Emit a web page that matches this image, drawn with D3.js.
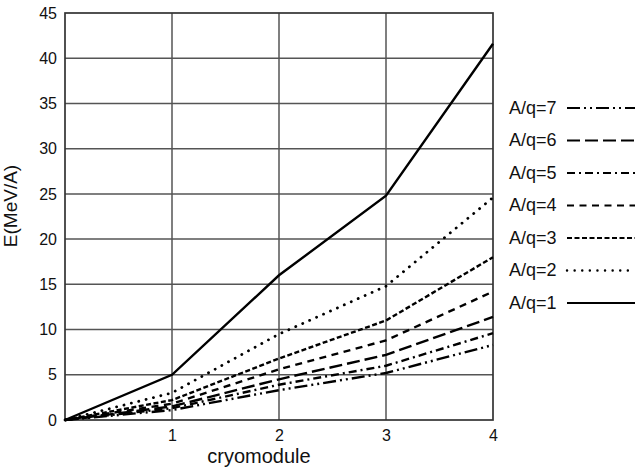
<!DOCTYPE html>
<html lang="en">
<head>
<meta charset="UTF-8">
<title>E vs cryomodule</title>
<script src="https://cdnjs.cloudflare.com/ajax/libs/d3/7.8.5/d3.min.js"></script>
<style>
  body { margin: 0; background: #fff; }
  svg text { font-family: "Liberation Sans", Arial, Helvetica, sans-serif; fill: #111; }
</style>
</head>
<body>
<svg id="chart" width="637" height="471"></svg>
<script>
    // data
    const cryomodules = [0, 1, 2, 3, 4];
    const xTicks = [1, 2, 3, 4];
    const yTicks = [0, 5, 10, 15, 20, 25, 30, 35, 40, 45];
    const seriesNames = ["A/q=7", "A/q=6", "A/q=5", "A/q=4", "A/q=3", "A/q=2", "A/q=1"];
    const aq1 = [0, 5, 16, 24.8, 41.6];
    const aq2 = [0, 3, 9.5, 14.8, 24.6];
    const aq3 = [0, 2.2, 6.8, 11, 18];
    const aq4 = [0, 1.8, 5.6, 8.8, 14.2];
    const aq6 = [0, 1.5, 4.5, 7.2, 11.4];
    const aq5 = [0, 1.3, 3.9, 6, 9.6];
    const aq7 = [0, 1.1, 3.3, 5.2, 8.3];

    const dashes = {
        "A/q=1": null,
        "A/q=2": "0.1 7.5",
        "A/q=3": "5 2.5",
        "A/q=4": "7 5.5",
        "A/q=5": "8 4 2 4",
        "A/q=6": "13 5",
        "A/q=7": "13 4 2 4 2 4"
    };
    const values = {
        "A/q=1": aq1, "A/q=2": aq2, "A/q=3": aq3, "A/q=4": aq4,
        "A/q=5": aq5, "A/q=6": aq6, "A/q=7": aq7
    };

    const svg = d3.select("#chart");
    const m = { left: 65, right: 493, top: 13, bottom: 420 };

    const x = d3.scaleLinear().domain([0, 4]).range([m.left, m.right]);
    const y = d3.scaleLinear().domain([0, 45]).range([m.bottom, m.top]);

    // grid
    svg.append("g").selectAll("line")
        .data(yTicks.slice(1, -1))
        .enter().append("line")
        .attr("x1", m.left).attr("x2", m.right)
        .attr("y1", d => y(d)).attr("y2", d => y(d))
        .attr("stroke", "#555").attr("stroke-width", 1.5);
    svg.append("g").selectAll("line")
        .data(xTicks.slice(0, -1))
        .enter().append("line")
        .attr("y1", m.top).attr("y2", m.bottom)
        .attr("x1", d => x(d)).attr("x2", d => x(d))
        .attr("stroke", "#555").attr("stroke-width", 1.5);

    svg.append("rect")
        .attr("x", m.left).attr("y", m.top)
        .attr("width", m.right - m.left).attr("height", m.bottom - m.top)
        .attr("fill", "none").attr("stroke", "#333").attr("stroke-width", 1.7);

    // axes labels
    const yAxis = d3.axisLeft(y).tickValues(yTicks).tickFormat(d3.format("d")).tickSize(0).tickPadding(8);
    const gy = svg.append("g").attr("transform", `translate(${m.left},0)`).call(yAxis);
    const xAxis = d3.axisBottom(x).tickValues(xTicks).tickFormat(d3.format("d")).tickSize(0).tickPadding(10);
    const gx = svg.append("g").attr("transform", `translate(0,${m.bottom})`).call(xAxis);
    [gy, gx].forEach(g => {
        g.select(".domain").remove();
        g.selectAll("text").style("font-size", "16px").attr("fill", "#111");
    });

    svg.append("text")
        .attr("x", x(2) - 20).attr("y", 463)
        .attr("text-anchor", "middle")
        .style("font-size", "20px")
        .text("cryomodule");

    svg.append("text")
        .attr("transform", "translate(17,206) rotate(-90)")
        .attr("text-anchor", "middle")
        .style("font-size", "19px")
        .text("E(MeV/A)");

    // series
    const line = d3.line()
        .x((d, i) => x(cryomodules[i]))
        .y(d => y(d));

    svg.append("g").selectAll("path")
        .data(seriesNames)
        .enter().append("path")
        .attr("d", d => line(values[d]))
        .attr("fill", "none")
        .attr("stroke", "#000")
        .attr("stroke-width", d => d === "A/q=2" ? 2.8 : 2.4)
        .attr("stroke-dasharray", d => dashes[d])
        .attr("stroke-linecap", d => d === "A/q=2" ? "round" : "butt");

    // legend
    const legend = svg.append("g").selectAll("g")
        .data(seriesNames)
        .enter().append("g")
        .attr("transform", (d, i) => `translate(509,${107 + i * 32.5})`);
    legend.append("text")
        .attr("y", 6.5)
        .style("font-size", "18px")
        .text(d => d);
    legend.append("line")
        .attr("x1", 58).attr("x2", 126)
        .attr("y1", 1).attr("y2", 1)
        .attr("stroke", "#000")
        .attr("stroke-width", d => d === "A/q=2" ? 2.4 : 2)
        .attr("stroke-dasharray", d => dashes[d])
        .attr("stroke-linecap", d => d === "A/q=2" ? "round" : "butt");
</script>
</body>
</html>
